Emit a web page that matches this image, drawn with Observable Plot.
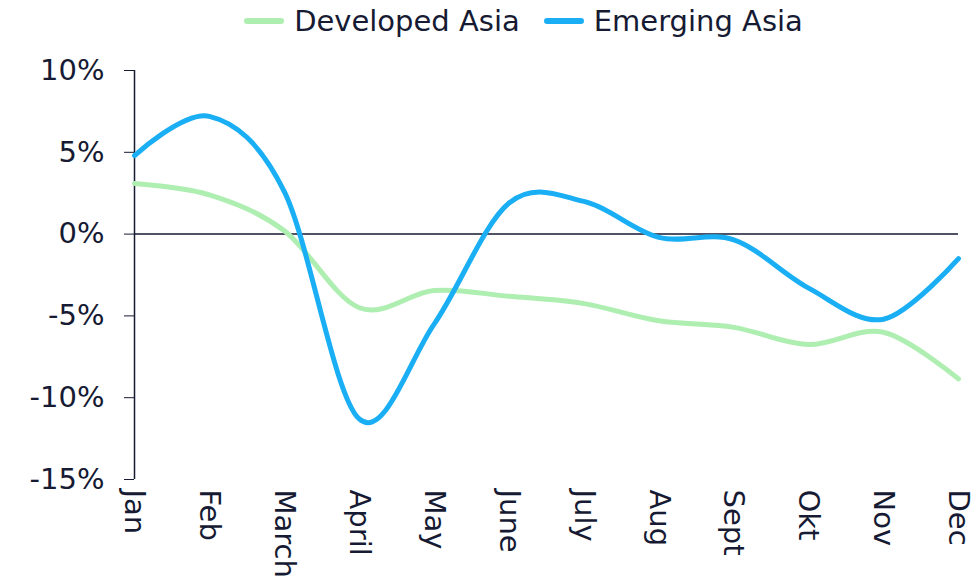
<!DOCTYPE html>
<html><head><meta charset="utf-8">
<script src="https://cdn.jsdelivr.net/npm/d3@7"></script>
<script src="https://cdn.jsdelivr.net/npm/@observablehq/plot@0.6"></script>
<style>
body{margin:0;background:#fff;font-family:"DejaVu Sans",Verdana,sans-serif;color:#161a33;}
#legend{height:45px;display:flex;align-items:center;justify-content:center;font-size:29px;padding-left:69px;padding-bottom:4px;box-sizing:border-box;}
.item{display:flex;align-items:center;margin:0 12px;}
.sw{width:40px;height:6px;border-radius:3px;margin-right:10px;}
svg{display:block;}
</style></head>
<body>
<div id="legend"></div>
<div id="chart"></div>
<script>
const months = ["Jan","Feb","March","April","May","June","July","Aug","Sept","Okt","Nov","Dec"];
const developedAsia = [3.1, 2.4, 0.2, -4.5, -3.45, -3.8, -4.25, -5.3, -5.7, -6.75, -6.0, -8.85];
const emergingAsia = [4.8, 7.2, 2.6, -11.3, -5.5, 1.9, 2.0, -0.2, -0.35, -3.3, -5.2, -1.5];
const seriesNames = ["Developed Asia", "Emerging Asia"];
const seriesColors = ["#aeeeb1", "#1aaff4"];
const yTicks = [-15, -10, -5, 0, 5, 10];

const rows = [];
months.forEach((m, i) => {
  rows.push({idx: i, value: developedAsia[i], series: seriesNames[0]});
  rows.push({idx: i, value: emergingAsia[i], series: seriesNames[1]});
});
const monthIdx = months.map((m, i) => i);

const legend = document.getElementById("legend");
seriesNames.forEach((n, i) => {
  const it = document.createElement("div");
  it.className = "item";
  it.innerHTML = `<span class="sw" style="background:${seriesColors[i]}"></span><span>${n}</span>`;
  legend.appendChild(it);
});

const ink = "#161a33";
const chart = Plot.plot({
  width: 978,
  height: 541,
  marginLeft: 134,
  marginRight: 20,
  marginTop: 25,
  marginBottom: 107,
  style: {fontFamily: '"DejaVu Sans", Verdana, sans-serif', fontSize: "29px", color: ink, background: "#fff"},
  x: {type: "linear", domain: [0, months.length - 1], inset: 0},
  y: {domain: [-15, 10], inset: 0},
  color: {domain: seriesNames, range: seriesColors},
  marks: [
    Plot.axisY({ticks: yTicks, tickFormat: d => d + "%", tickSize: 10, tickPadding: 20, label: null, stroke: ink, fontSize: 29}),
    Plot.ruleX([0], {y1: -15, y2: 10, stroke: ink, strokeWidth: 1.5}),
    Plot.ruleY([0], {x1: 0, x2: months.length - 1, stroke: ink, strokeWidth: 1.5}),
    Plot.axisX({ticks: monthIdx, tickFormat: i => months[i], tickRotate: 90, tickSize: 0, tickPadding: 10, label: null, fontSize: 29}),
    Plot.line(rows, {x: "idx", y: "value", z: "series", stroke: "series", strokeWidth: 5, curve: "cardinal", strokeLinecap: "round"})
  ]
});
document.getElementById("chart").appendChild(chart);
</script>
</body></html>
